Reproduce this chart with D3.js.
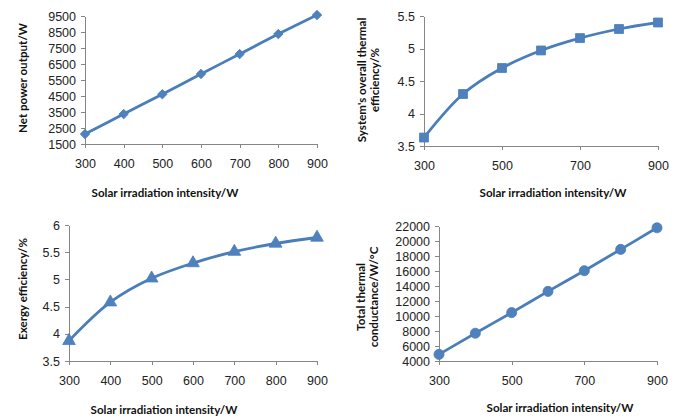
<!DOCTYPE html>
<html>
<head>
  <meta charset="utf-8">
  <style>
    body { margin: 0; background: #fff; }
    svg { font-family: Lato, "Open Sans", sans-serif; }
    .axis path, .axis line { stroke: #868686; shape-rendering: crispEdges; }
    .axis text { font-size: 12.5px; fill: #222; }
    .ytitle, .xtitle { font-size: 11.6px; font-weight: bold; fill: #111; }
  </style>
</head>
<body>
  <script src="https://d3js.org/d3.v7.min.js"></script>
  <script>
    var irradiation = [300, 400, 500, 600, 700, 800, 900];
    var netPower = [2120, 3370, 4610, 5880, 7120, 8370, 9560];
    var thermalEff = [3.63, 4.30, 4.70, 4.97, 5.16, 5.30, 5.40];
    var exergyEff = [3.87, 4.58, 5.02, 5.30, 5.51, 5.66, 5.77];
    var conductance = [4880, 7700, 10450, 13280, 16040, 18880, 21760];

    var ticksNet = [1500, 2500, 3500, 4500, 5500, 6500, 7500, 8500, 9500];
    var ticksThermal = [3.5, 4, 4.5, 5, 5.5];
    var ticksExergy = [3.5, 4, 4.5, 5, 5.5, 6];
    var ticksCond = [4000, 6000, 8000, 10000, 12000, 14000, 16000, 18000, 20000, 22000];
    var xTicksAll = [300, 400, 500, 600, 700, 800, 900];
    var xTicksOdd = [300, 500, 700, 900];

    var xTitle = "Solar irradiation  intensity/W";
    var blue = "#4a7ebb", markerBlue = "#4f81bd";

    var svg = d3.select("body").append("svg")
        .attr("width", 684)
        .attr("height", 418);

    function panel(o) {
      var x = d3.scaleLinear().domain([300, 900]).range([o.left, o.right]);
      var y = d3.scaleLinear().domain(d3.extent(o.yTicks)).range([o.bottom, o.top]);
      var g = svg.append("g");

      g.append("g")
          .attr("class", "axis")
          .attr("transform", "translate(" + o.left + ",0)")
          .call(d3.axisLeft(y).tickValues(o.yTicks).tickSize(4).tickSizeOuter(0).tickPadding(5)
            .tickFormat(function(d) { return String(d); }));

      g.append("g")
          .attr("class", "axis")
          .attr("transform", "translate(0," + o.bottom + ")")
          .call(d3.axisBottom(x).tickValues(o.xTicks).tickSize(4).tickSizeOuter(0).tickPadding(11)
            .tickFormat(function(d) { return String(d); }));

      // x axis title
      g.append("text")
          .attr("class", "xtitle")
          .attr("x", o.xtX).attr("y", o.xtY)
          .attr("text-anchor", "middle")
          .text(xTitle);

      // y axis title, one or two lines
      o.yTitle.forEach(function(t, i) {
        g.append("text")
            .attr("class", "ytitle")
            .attr("transform", "translate(" + (o.ytX + i * 13) + "," + o.ytY + ") rotate(-90)")
            .attr("text-anchor", "middle")
            .text(t);
      });

      var pts = irradiation.map(function(v, i) { return [v, o.values[i]]; });
      var line = d3.line()
          .curve(d3.curveCatmullRom.alpha(0.5))
          .x(function(d) { return x(d[0]); })
          .y(function(d) { return y(d[1]); });

      g.append("path")
          .datum(pts)
          .attr("fill", "none")
          .attr("stroke", blue)
          .attr("stroke-width", 2.8)
          .attr("d", line);

      g.selectAll(".mk")
          .data(pts)
          .enter().append("path")
          .attr("class", "mk")
          .attr("fill", markerBlue)
          .attr("stroke", blue)
          .attr("stroke-width", 0.8)
          .attr("transform", function(d) {
            return "translate(" + x(d[0]) + "," + y(d[1]) + ")" + (o.rotate ? " rotate(45)" : "");
          })
          .attr("d", d3.symbol().type(o.symbol).size(o.symSize));
    }

    panel({
      left: 85, right: 317, top: 16, bottom: 144,
      yTicks: ticksNet, xTicks: xTicksAll, values: netPower,
      yTitle: ["Net power output/W"], ytX: 27, ytY: 78,
      xtX: 165, xtY: 197, symbol: d3.symbolSquare, symSize: 45, rotate: true
    });

    panel({
      left: 424, right: 658, top: 16, bottom: 146,
      yTicks: ticksThermal, xTicks: xTicksOdd, values: thermalEff,
      yTitle: ["System's overall thermal", "efficiency/%"], ytX: 366, ytY: 80,
      xtX: 553, xtY: 197, symbol: d3.symbolSquare, symSize: 80
    });

    panel({
      left: 69, right: 317, top: 225, bottom: 361,
      yTicks: ticksExergy, xTicks: xTicksAll, values: exergyEff,
      yTitle: ["Exergy efficiency/%"], ytX: 27, ytY: 289,
      xtX: 164, xtY: 414, symbol: d3.symbolTriangle, symSize: 70
    });

    panel({
      left: 439, right: 657, top: 226, bottom: 361,
      yTicks: ticksCond, xTicks: xTicksOdd, values: conductance,
      yTitle: ["Total thermal", "conductance/W/\u00b0C"], ytX: 365, ytY: 297,
      xtX: 560, xtY: 412, symbol: d3.symbolCircle, symSize: 80
    });
  </script>
</body>
</html>
